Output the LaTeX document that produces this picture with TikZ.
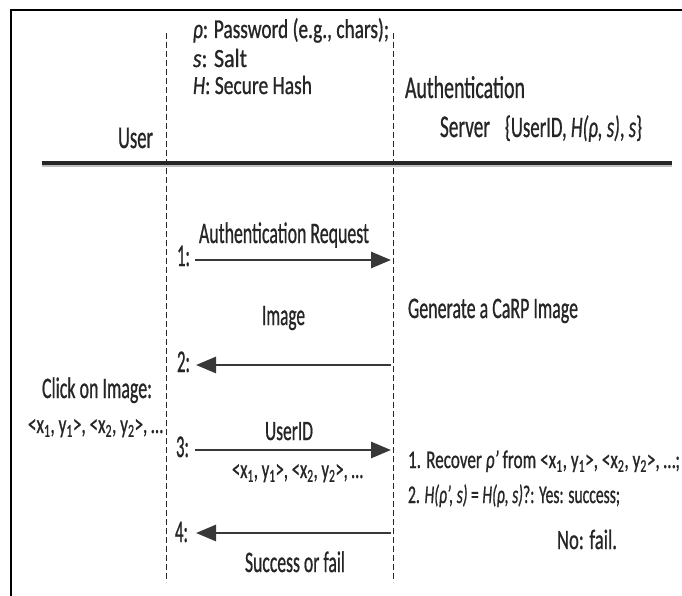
\documentclass[tikz,border=0pt]{standalone}
\usepackage{fontspec}
\setmainfont{Carlito}[FakeBold=1.0]
\usetikzlibrary{arrows.meta}
\newcommand{\fw}[3][1.8]{\resizebox{#2pt}{#1\height}{#3}}
\newcommand{\pairs}{<x\textsubscript{1}, y\textsubscript{1}>, <x\textsubscript{2}, y\textsubscript{2}>, \dots}
\definecolor{ink}{HTML}{262626}
\definecolor{arr}{HTML}{383838}
\tikzset{
  txt/.style={inner sep=0pt, outer sep=0pt, anchor=base west, text=ink,
              font=\fontsize{17.5}{20}\selectfont},
  lifeline/.style={draw=ink, line width=0.8pt, dash pattern=on 6pt off 3pt},
  msg/.style={draw=arr, line width=2.8pt, -{Triangle[length=20pt,width=16pt]}},
  frame/.style={draw=black, line width=2.6pt},
  sep/.style={draw=ink, line width=4pt}
}
\begin{document}
\begin{tikzpicture}[x=1pt,y=-1pt]
\useasboundingbox (0,0) rectangle (682,596);
\fill[white] (0,0) rectangle (682,596);
% frame (clipped at right and bottom)
\coordinate (fTR) at (682,10);
\coordinate (fTL) at (11,10);
\coordinate (fBL) at (11,596);
\draw[frame] (fTR) -- (fTL) -- (fBL);
% header texts
\node[txt] (rho)  at (193,38) {\fw[1.55]{196}{\textit{ρ}: Password (e.g., chars);}};
\node[txt] (salt) at (193,67) {\fw[1.5]{54}{\textit{s}: Salt}};
\node[txt] (hash) at (193,94) {\fw[1.5]{119}{\textit{H}: Secure Hash}};
\node[txt] (user) at (118,148) {\fw{35}{User}};
\node[txt] (auth) at (405,98) {\fw{120}{Authentication}};
\node[txt] (serv) at (440,137) {\fw{50}{Server}};
\node[txt] (db)   at (505,137) {\fw[1.7]{137}{\{UserID, \textit{H(ρ, s)}, \textit{s}\}}};
% separator line
\coordinate (sepL) at (42,163);
\coordinate (sepR) at (672,163);
\draw[draw=black!25, line width=2pt] ([yshift=-3.5pt]sepL) -- ([yshift=-3.5pt]sepR);
\draw[sep] (sepL) -- (sepR);
% lifelines
\coordinate (uTop) at (166,33);
\coordinate (uBot) at (166,582);
\coordinate (sTop) at (393,33);
\coordinate (sBot) at (393,582);
\draw[lifeline] (uTop) -- (uBot);
\draw[lifeline] (sTop) -- (sBot);
% message 1
\node[txt] (l1) at (199,243) {\fw[1.7]{170}{Authentication Request}};
\node[txt] (n1) at (177,266) {\fw{13}{1:}};
\coordinate (m1s) at (195,260);
\coordinate (m1e) at (391,260);
\draw[msg] (m1s) -- (m1e);
% message 2
\node[txt] (l2) at (262,325) {\fw[1.7]{43}{Image}};
\node[txt] (gen) at (408,318) {\fw[1.7]{170}{Generate a CaRP Image}};
\node[txt] (n2) at (177,372) {\fw{13}{2:}};
\coordinate (m2s) at (391,365);
\coordinate (m2e) at (196,365);
\draw[msg] (m2s) -- (m2e);
% user click
\node[txt] (click) at (42,398) {\fw[1.7]{110}{Click on Image:}};
\node[txt] (clk2)  at (28,433) {\fw[1.5]{135}{\pairs}};
% message 3
\node[txt] (l3) at (265,440) {\fw[1.6]{48}{UserID}};
\node[txt] (n3) at (176,457) {\fw{13}{3:}};
\coordinate (m3s) at (195,450);
\coordinate (m3e) at (391,450);
\draw[msg] (m3s) -- (m3e);
\node[txt] (l3b) at (232,478) {\fw[1.5]{131}{\pairs}};
% server check
\node[txt] (chk1) at (408,468) {\fw[1.45]{272}{1. Recover \textit{ρ'} from \pairs;}};
\node[txt] (chk2) at (408,503) {\fw[1.45]{212}{2. \textit{H(ρ', s)} = \textit{H(ρ, s)}?: Yes: success;}};
\node[txt] (chk3) at (557,549) {\fw[1.6]{60}{No: fail.}};
% message 4
\node[txt] (n4) at (175,542) {\fw{13}{4:}};
\coordinate (m4s) at (391,533);
\coordinate (m4e) at (196,533);
\draw[msg] (m4s) -- (m4e);
\node[txt] (l4) at (245,572) {\fw[1.7]{100}{Success or fail}};
\end{tikzpicture}
\end{document}
